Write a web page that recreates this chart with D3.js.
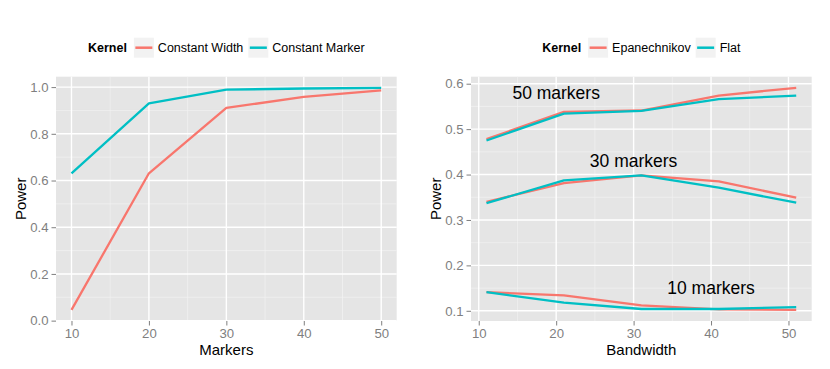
<!DOCTYPE html>
<html>
<head>
<meta charset="utf-8">
<script src="https://cdn.jsdelivr.net/npm/d3@7"></script>
<style>
  body { margin: 0; background: #fff; }
  svg { display: block; font-family: "Liberation Sans", Arial, Helvetica, sans-serif; }
  .tick text { fill: #7f7f7f; font-size: 13.2px; }
  .tick line { stroke: #7f7f7f; }
  .axis-title { font-size: 15px; fill: #000; }
</style>
</head>
<body>
<div id="chart"></div>
<script>
// left panel: power vs number of markers
var markers = [10, 20, 30, 40, 50];
var constantWidth = [0.046, 0.631, 0.911, 0.958, 0.986];
var constantMarker = [0.631, 0.930, 0.989, 0.994, 0.997];
var markerTicks = [10, 20, 30, 40, 50];
var powerTicksLeft = [0, 0.2, 0.4, 0.6, 0.8, 1.0];

// right panel: power vs bandwidth, three marker counts
var bandwidth = [11, 21, 31, 41, 51];
var epan50 = [0.478, 0.538, 0.541, 0.574, 0.591];
var flat50 = [0.475, 0.534, 0.540, 0.566, 0.574];
var epan30 = [0.340, 0.381, 0.398, 0.385, 0.349];
var flat30 = [0.337, 0.387, 0.398, 0.371, 0.338];
var epan10 = [0.141, 0.134, 0.112, 0.103, 0.102];
var flat10 = [0.141, 0.118, 0.104, 0.104, 0.108];
var bandwidthTicks = [10, 20, 30, 40, 50];
var powerTicksRight = [0.1, 0.2, 0.3, 0.4, 0.5, 0.6];
var labels = ["50 markers", "30 markers", "10 markers"];
var labelX = [20, 30, 40];
var labelY = [0.58, 0.43, 0.15];

var RED = "#F8766D", TEAL = "#00BFC4";

var svg = d3.select("#chart").append("svg")
    .attr("width", 830)
    .attr("height", 369);

// ggplot style 5% expansion of the data range
function expand(ext) {
    var d = (ext[1] - ext[0]) * 0.05;
    return [ext[0] - d, ext[1] + d];
}
function midpoints(t) {
    var m = [];
    for (var i = 0; i < t.length - 1; i++) m.push((t[i] + t[i + 1]) / 2);
    return m;
}

function drawPanel(p) {
    var top = 76.7, bottom = 321;
    var x = d3.scaleLinear().domain(expand(d3.extent(p.xs))).range([p.x0, p.x1]);
    var allY = [].concat.apply([], p.series.map(function (s) { return s.values; }));
    var y = d3.scaleLinear().domain(expand(d3.extent(allY))).range([bottom, top]);

    var g = svg.append("g");
    // panel background
    g.append("rect")
        .attr("x", p.x0).attr("y", top)
        .attr("width", p.x1 - p.x0).attr("height", bottom - top)
        .attr("fill", "#E5E5E5");
    // minor grid
    midpoints(p.yTicks).forEach(function (v) {
        g.append("line").attr("x1", p.x0).attr("x2", p.x1)
            .attr("y1", y(v)).attr("y2", y(v))
            .attr("stroke", "#F2F2F2").attr("stroke-width", 0.7);
    });
    midpoints(p.xTicks).forEach(function (v) {
        g.append("line").attr("x1", x(v)).attr("x2", x(v))
            .attr("y1", top).attr("y2", bottom)
            .attr("stroke", "#F2F2F2").attr("stroke-width", 0.7);
    });
    // major grid
    p.yTicks.forEach(function (v) {
        g.append("line").attr("x1", p.x0).attr("x2", p.x1)
            .attr("y1", y(v)).attr("y2", y(v))
            .attr("stroke", "#fff").attr("stroke-width", 1.4);
    });
    p.xTicks.forEach(function (v) {
        g.append("line").attr("x1", x(v)).attr("x2", x(v))
            .attr("y1", top).attr("y2", bottom)
            .attr("stroke", "#fff").attr("stroke-width", 1.4);
    });

    // axes
    var ax = g.append("g").attr("transform", "translate(0," + bottom + ")")
        .call(d3.axisBottom(x).tickValues(p.xTicks).tickSize(4.5).tickPadding(3).tickSizeOuter(0));
    var ay = g.append("g").attr("transform", "translate(" + p.x0 + ",0)")
        .call(d3.axisLeft(y).tickValues(p.yTicks).tickFormat(d3.format(".1f")).tickSize(4.5).tickPadding(3).tickSizeOuter(0));
    ax.select(".domain").remove();
    ay.select(".domain").remove();
    ax.selectAll("text").attr("font-family", null).attr("font-size", null);
    ay.selectAll("text").attr("font-family", null).attr("font-size", null);
    ax.selectAll("line").attr("stroke-width", 1);
    ay.selectAll("line").attr("stroke-width", 1);

    // lines
    var line = d3.line()
        .x(function (d) { return x(d[0]); })
        .y(function (d) { return y(d[1]); });
    p.series.forEach(function (s) {
        g.append("path")
            .datum(p.xs.map(function (v, i) { return [v, s.values[i]]; }))
            .attr("d", line)
            .attr("fill", "none")
            .attr("stroke", s.color)
            .attr("stroke-width", 2.3)
            .attr("stroke-linejoin", "round");
    });

    // annotations
    (p.notes || []).forEach(function (n) {
        g.append("text")
            .attr("x", x(n.x)).attr("y", y(n.y))
            .attr("dy", "0.35em")
            .attr("text-anchor", "middle")
            .attr("font-size", "17.5px")
            .attr("fill", "#000")
            .text(n.text);
    });

    // axis titles
    var cx = (p.x0 + p.x1) / 2;
    g.append("text").attr("class", "axis-title")
        .attr("x", cx).attr("y", 355)
        .attr("text-anchor", "middle")
        .text(p.xTitle);
    g.append("text").attr("class", "axis-title")
        .attr("transform", "translate(" + (p.x0 - 30.5) + "," + ((top + bottom) / 2) + ") rotate(-90)")
        .attr("text-anchor", "middle")
        .text("Power");

    // legend, centred over the panel
    var lg = g.append("g");
    var ly = 47.7;
    var title = lg.append("text").attr("y", ly).attr("dy", "0.35em")
        .attr("font-size", "12.5px").attr("font-weight", "bold").attr("fill", "#000")
        .text("Kernel");
    var pos = title.node().getComputedTextLength() + 7;
    p.series.filter(function (s) { return s.legend; }).forEach(function (s, i) {
        if (i > 0) pos += 5;
        lg.append("rect").attr("x", pos).attr("y", ly - 10)
            .attr("width", 20).attr("height", 20).attr("fill", "#F2F2F2");
        lg.append("line").attr("x1", pos + 1.5).attr("x2", pos + 18.5)
            .attr("y1", ly).attr("y2", ly)
            .attr("stroke", s.color).attr("stroke-width", 2.5);
        pos += 24;
        var t = lg.append("text").attr("x", pos).attr("y", ly).attr("dy", "0.35em")
            .attr("font-size", "12.5px").attr("fill", "#000")
            .text(s.legend);
        pos += t.node().getComputedTextLength();
    });
    lg.attr("transform", "translate(" + (cx - pos / 2) + ",0)");
}

drawPanel({
    x0: 56, x1: 396.7,
    xs: markers,
    xTicks: markerTicks,
    yTicks: powerTicksLeft,
    xTitle: "Markers",
    series: [
        { values: constantWidth, color: RED, legend: "Constant Width" },
        { values: constantMarker, color: TEAL, legend: "Constant Marker" }
    ]
});

drawPanel({
    x0: 471, x1: 811.7,
    xs: bandwidth,
    xTicks: bandwidthTicks,
    yTicks: powerTicksRight,
    xTitle: "Bandwidth",
    series: [
        { values: epan50, color: RED, legend: "Epanechnikov" },
        { values: flat50, color: TEAL, legend: "Flat" },
        { values: epan30, color: RED },
        { values: flat30, color: TEAL },
        { values: epan10, color: RED },
        { values: flat10, color: TEAL }
    ],
    notes: labels.map(function (t, i) { return { text: t, x: labelX[i], y: labelY[i] }; })
});
</script>
</body>
</html>
